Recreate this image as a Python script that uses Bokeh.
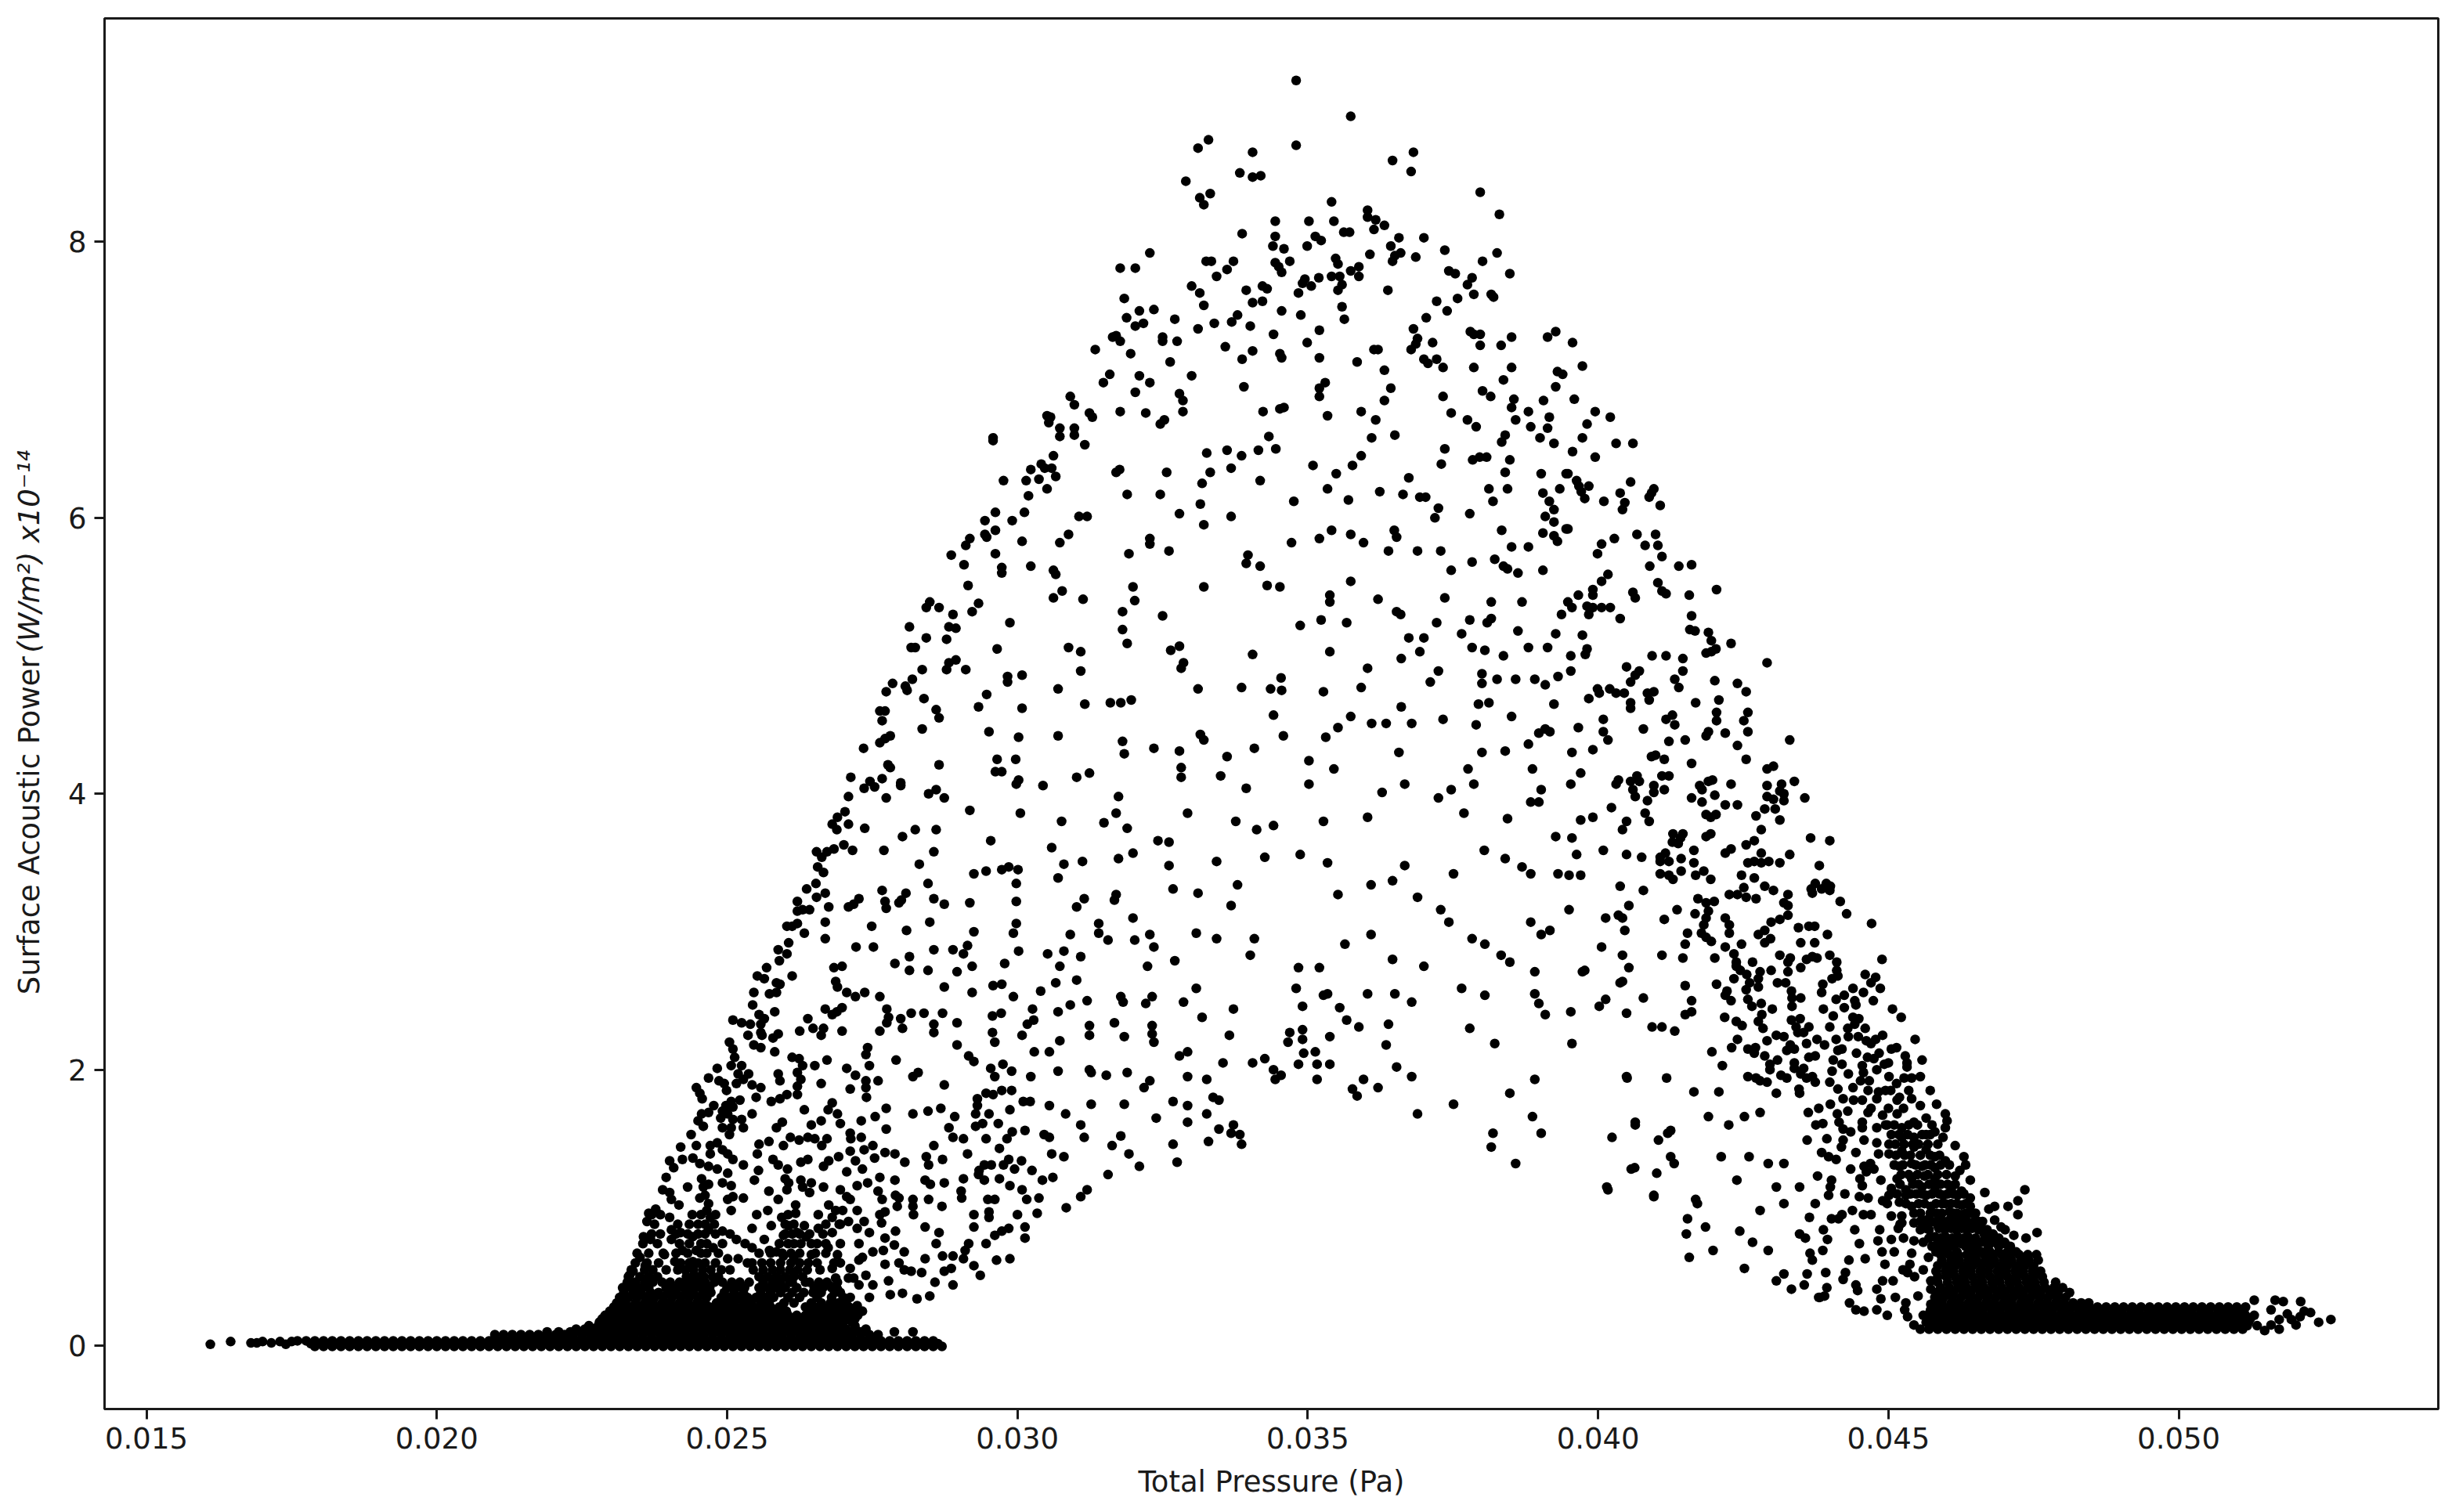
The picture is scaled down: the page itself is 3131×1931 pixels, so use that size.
import math
from bokeh.plotting import figure
from bokeh.layouts import row as bokeh_row
from bokeh.models import FixedTicker, Label, NumeralTickFormatter, ColumnDataSource
from bokeh.embed import file_html
from bokeh.resources import INLINE

# total pressure in mPa, surface acoustic power in units of 1e-14 W/m2
x_ticks = [0.015, 0.020, 0.025, 0.030, 0.035, 0.040, 0.045, 0.050]
y_ticks = [0, 2, 4, 6, 8]

apex = [(34.8,9.17),(35.74,8.91),(33.29,8.74),(33.11,8.68),(34.05,8.65),(34.8,8.7),(36.46,8.59),(36.82,8.65),(36.78,8.51),(33.83,8.5),(34.05,8.47),(34.19,8.48),(32.9,8.44),(33.32,8.35),(33.14,8.32),(33.21,8.27),(37.97,8.36),(38.3,8.2),(35.41,8.29),(36.03,8.23),(36.03,8.18),(36.17,8.16),(36.32,8.12),(36.14,8.09),(34.44,8.15),(35.02,8.15),(35.45,8.15),(35.62,8.07),(35.72,8.07),(33.87,8.06),(34.44,8.04),(35.13,8.04),(35.23,8.01),(36.57,8.03),(37.0,8.03),(34.99,7.97),(34.4,7.97),(34.59,7.95),(36.43,7.97),(36.6,7.92),(36.5,7.9),(36.46,7.86),(36.86,7.89),(36.07,7.91),(37.36,7.94),(38.26,7.92),(38.01,7.86),(38.48,7.77),(32.28,7.92),(31.77,7.81),(32.03,7.81),(33.25,7.86),(33.34,7.86),(33.72,7.86),(33.61,7.8),(33.43,7.75),(34.69,7.86),(34.44,7.85),(34.5,7.82),(34.55,7.78),(35.48,7.88),(35.52,7.84),(35.88,7.82),(35.74,7.79),(35.88,7.75),(35.41,7.75),(35.55,7.75),(35.19,7.74),(34.95,7.73),(34.91,7.7),(35.06,7.68),(34.84,7.63),(35.59,7.69),(35.52,7.65),(33.0,7.68),(33.14,7.63),(33.94,7.65),(34.22,7.68),(34.3,7.66),(36.38,7.65),(37.43,7.79),(37.54,7.77),(37.83,7.74),(37.75,7.69),(37.86,7.62),(38.16,7.62),(38.2,7.6),(37.58,7.59),(37.22,7.57),(37.4,7.5),(37.04,7.45),(31.84,7.59),(32.35,7.51),(32.1,7.5),(31.88,7.45),(32.17,7.41),(32.03,7.39),(32.71,7.44),(33.21,7.54),(34.05,7.56),(34.22,7.57),(34.55,7.5),(34.88,7.47),(35.59,7.53),(35.63,7.44),(33.79,7.47),(33.69,7.42),(34.01,7.39),(33.39,7.41),(33.11,7.37),(35.2,7.36),(36.82,7.37),(36.89,7.3),(36.86,7.26),(36.78,7.22),(37.15,7.27),(37.8,7.35),(37.86,7.33),(37.97,7.33),(37.97,7.25),(38.33,7.25),(38.51,7.31),(39.13,7.31),(39.27,7.35),(31.7,7.32),(31.64,7.31),(31.77,7.28),(32.5,7.31),(32.5,7.28),(32.75,7.28),(31.34,7.22),(31.95,7.19),(32.63,7.13),(34.41,7.33),(34.99,7.27),(33.58,7.24),(34.05,7.21),(34.52,7.19),(34.55,7.16),(33.87,7.15),(35.2,7.16),(35.85,7.13),(36.14,7.22),(36.21,7.22),(36.32,7.07),(37.0,7.15),(37.07,7.12),(37.22,7.15),(37.33,7.09),(37.86,7.09),(38.51,7.09),(38.37,7.0),(39.3,7.06),(39.39,7.04),(39.27,6.95),(31.59,7.04),(31.48,6.98),(32.1,7.03),(32.28,6.98),(33.0,7.03),(33.9,6.95),(35.3,6.98),(35.2,6.94),(35.2,6.88),(36.43,6.94),(36.32,6.85),(37.33,6.88),(38.01,6.92),(38.15,6.88),(38.55,6.86),(38.51,6.8),(39.06,6.85),(38.8,6.77),(39.16,6.73),(38.58,6.71),(38.84,6.66),(39.13,6.65),(30.91,6.88),(30.98,6.82),(32.03,6.91),(32.79,6.9),(32.85,6.85),(32.85,6.77),(31.77,6.77),(32.21,6.76),(32.53,6.71),(32.46,6.68),(31.24,6.76),(31.29,6.73),(30.51,6.74),(30.57,6.73),(30.54,6.69),(30.73,6.65),(30.98,6.65),(30.98,6.6),(30.73,6.59),(29.58,6.58),(34.23,6.77),(34.52,6.79),(34.59,6.8),(35.34,6.74),(35.92,6.77),(36.17,6.71),(37.47,6.76),(37.75,6.71),(37.9,6.66),(34.33,6.59),(36.1,6.58),(36.5,6.6),(38.4,6.6),(39.0,6.58)]

upper_right = [(39.56,7.27),(39.73,7.1),(39.59,6.86),(39.95,6.77),(40.21,6.73),(39.81,6.68),(39.73,6.58),(40.31,6.54),(40.6,6.54),(39.56,6.48),(39.95,6.44),(39.48,6.32),(39.63,6.27),(39.67,6.23),(39.71,6.19),(39.77,6.14),(39.84,6.23),(40.56,6.26),(40.38,6.18),(40.1,6.12),(40.46,6.11),(40.42,6.06),(40.96,6.21),(40.92,6.18),(40.88,6.15),(41.07,6.09),(39.48,5.92),(40.06,5.81),(40.28,5.85),(39.99,5.74),(40.67,5.88),(40.99,5.88),(40.81,5.8),(41.03,5.8),(41.1,5.72),(40.89,5.65),(41.39,5.65),(41.61,5.66),(40.17,5.59),(40.06,5.54),(39.91,5.48),(39.91,5.44),(39.66,5.44),(41.03,5.53),(41.1,5.47),(41.17,5.45),(40.6,5.46),(40.64,5.42),(41.57,5.44),(42.04,5.48),(39.48,5.39),(39.55,5.35),(39.81,5.36),(39.91,5.35),(40.06,5.35),(40.21,5.35),(39.84,5.3),(40.38,5.27),(41.61,5.29)]

right_flank = [(39.73,5.15),(39.81,5.05),(39.78,5.01),(39.53,5.0),(39.53,4.89),(40.93,5.0),(41.17,5.0),(41.46,4.98),(41.46,4.89),(41.58,5.19),(41.67,5.18),(41.9,5.17),(41.95,5.11),(41.86,5.02),(41.95,5.03),(42.03,5.05),(42.29,5.09),(42.91,4.95),(40.49,4.92),(40.71,4.89),(40.64,4.86),(40.56,4.81),(41.32,4.83),(41.39,4.77),(42.01,4.82),(42.4,4.8),(42.55,4.74),(39.99,4.76),(40.02,4.73),(39.84,4.69),(40.2,4.76),(40.31,4.73),(40.45,4.73),(40.56,4.66),(40.56,4.62),(40.96,4.74),(40.85,4.73),(40.88,4.68),(41.68,4.66),(42.08,4.68),(42.04,4.59),(42.04,4.53),(42.58,4.59),(42.51,4.53),(42.58,4.45),(40.09,4.54),(39.66,4.48),(40.09,4.45),(40.17,4.39),(40.78,4.47),(41.28,4.57),(41.17,4.54),(41.32,4.5),(41.9,4.45),(41.86,4.42),(42.19,4.44),(41.22,4.38),(41.5,4.39),(43.3,4.39),(42.4,4.35),(39.91,4.32),(39.55,4.3),(40.99,4.28),(40.92,4.27),(41.14,4.25),(41.61,4.22),(42.55,4.25),(43.02,4.2),(42.91,4.18),(39.7,4.15),(39.53,4.07),(40.35,4.1),(40.31,4.07),(40.67,4.13),(40.71,4.09),(40.56,4.09),(40.6,4.03),(40.64,3.98),(41.1,4.13),(41.22,4.13),(40.96,4.06),(40.96,4.01),(41.14,4.03),(40.85,3.95),(41.97,4.1),(41.9,4.09),(41.75,4.06),(41.79,4.03),(42.29,4.07),(42.01,3.99),(41.61,3.97),(41.79,3.94),(42.19,3.92),(42.4,3.92),(42.91,4.06),(43.16,4.07),(43.13,4.02),(43.2,4.0),(43.2,3.95),(43.38,4.09),(43.56,3.97),(42.91,3.98),(43.02,3.96),(43.05,3.89),(42.87,3.89),(42.72,3.84),(43.13,3.81),(40.23,3.9),(39.7,3.81),(39.91,3.83),(40.81,3.86),(40.88,3.8),(40.49,3.8),(40.42,3.74),(41.86,3.85),(41.94,3.83),(42.03,3.85),(42.81,3.74),(39.55,3.68),(41.29,3.71),(41.46,3.71),(41.42,3.68),(41.28,3.65),(41.38,3.64),(41.94,3.71),(41.86,3.69),(42.69,3.66),(42.55,3.63),(43.66,3.68),(43.99,3.66),(39.63,3.56),(40.09,3.59),(40.49,3.56),(40.75,3.54),(41.65,3.59),(42.29,3.6),(42.19,3.57),(42.81,3.57),(43.3,3.56),(41.16,3.57),(41.07,3.54),(41.22,3.51),(41.07,3.51),(41.43,3.53),(41.65,3.5),(42.58,3.5),(42.69,3.51),(42.81,3.5),(42.94,3.51),(43.13,3.5),(43.81,3.48),(39.5,3.41),(39.7,3.41),(41.07,3.42),(41.22,3.41),(41.29,3.38),(41.43,3.44),(41.68,3.41),(41.82,3.44),(41.94,3.38),(42.47,3.41),(42.69,3.39),(40.38,3.33),(40.78,3.3),(42.87,3.33),(43.02,3.3),(42.51,3.32),(42.4,3.27),(42.55,3.25),(42.26,3.27),(42.72,3.24),(43.27,3.27),(43.74,3.35),(43.93,3.35),(43.69,3.28),(43.85,3.31),(43.99,3.3),(43.67,3.31),(44.0,3.33),(44.17,3.22),(44.28,3.13),(41.72,3.24),(41.86,3.21),(42.0,3.22),(41.9,3.15),(40.53,3.19),(39.5,3.16),(41.36,3.16),(41.67,3.13),(43.2,3.21),(43.27,3.19),(40.13,3.1),(40.35,3.12),(40.42,3.1),(41.14,3.09),(41.86,3.1),(41.82,3.05),(41.78,2.99),(41.86,2.96),(41.95,2.93),(42.19,3.1),(42.26,3.05),(42.26,2.99),(43.27,3.12),(43.13,3.09),(42.98,3.07),(43.45,3.03),(43.63,3.04),(43.73,3.04),(44.71,3.06),(40.46,3.01),(41.54,2.99),(41.5,2.91),(42.87,3.01),(42.76,2.98),(43.95,2.98),(42.97,2.95),(42.87,2.92),(43.49,2.92),(43.73,2.92),(40.06,2.89),(42.19,2.89),(42.47,2.91),(40.42,2.83),(41.1,2.83),(41.46,2.81),(42.01,2.81),(42.34,2.84),(42.38,2.78),(43.13,2.83),(43.31,2.81),(43.27,2.78),(43.59,2.8),(43.69,2.82),(43.77,2.81),(43.99,2.83),(44.11,2.78),(44.89,2.8),(42.66,2.78),(40.53,2.74),(39.77,2.72),(39.73,2.71),(42.38,2.75),(42.45,2.72),(42.56,2.69),(42.61,2.63),(42.79,2.71),(42.76,2.66),(42.98,2.72),(43.49,2.74),(43.27,2.71),(44.11,2.72),(44.13,2.68),(44.03,2.66),(44.6,2.69),(44.78,2.67),(44.7,2.63),(42.34,2.66),(42.04,2.62),(40.42,2.64),(40.38,2.63),(41.5,2.61),(43.09,2.63),(43.23,2.63),(43.87,2.62),(43.85,2.56),(44.39,2.59),(44.57,2.56),(44.86,2.59),(42.55,2.58),(42.76,2.6),(42.22,2.57),(42.19,2.54),(42.29,2.5),(43.33,2.57),(43.34,2.52),(43.49,2.52),(43.34,2.46),(40.78,2.52),(40.13,2.51),(40.02,2.46),(41.61,2.5),(44.24,2.54),(44.1,2.51),(44.42,2.5),(44.24,2.45),(44.44,2.47),(44.74,2.5),(42.58,2.51),(42.65,2.46),(42.81,2.48),(43.0,2.44),(45.07,2.44),(45.22,2.38),(39.53,2.42),(40.49,2.41),(41.61,2.42),(41.5,2.4),(42.18,2.38),(42.82,2.4),(42.76,2.35),(42.84,2.3),(43.88,2.44),(44.05,2.39),(44.39,2.38),(44.49,2.37),(44.42,2.33),(43.33,2.36),(43.48,2.37),(43.41,2.31),(43.44,2.27),(43.54,2.27),(43.63,2.31),(43.99,2.31),(40.93,2.31),(41.1,2.31),(41.32,2.28),(42.38,2.35),(42.48,2.32),(43.07,2.25),(43.2,2.24),(42.91,2.21),(43.59,2.19),(43.77,2.22),(43.9,2.18),(44.1,2.22),(44.31,2.24),(44.48,2.24),(44.62,2.21),(44.78,2.22),(44.7,2.19),(45.46,2.22),(39.55,2.19),(42.4,2.22),(42.3,2.16),(43.31,2.18),(43.25,2.14),(43.38,2.15),(45.14,2.16),(45.29,2.1),(45.32,2.05),(45.32,2.02),(41.96,2.13),(42.58,2.15),(42.71,2.16),(42.69,2.12),(44.13,2.14),(42.87,2.1),(43.09,2.07),(43.63,2.09),(43.74,2.1),(44.05,2.07),(44.64,2.09),(44.84,2.12),(45.58,2.07),(42.96,2.04),(42.96,2.0),(43.38,2.05),(43.38,2.01),(43.54,2.01),(44.2,2.04),(44.55,2.03),(44.93,2.04),(44.8,2.0),(42.14,2.03),(44.03,1.99),(44.57,1.98),(40.49,1.95),(41.18,1.94),(42.58,1.95),(43.15,1.96),(43.25,1.94),(43.49,1.97),(43.59,1.94),(43.69,1.95),(43.74,1.91),(44.31,1.97),(42.79,1.92),(42.91,1.91),(45.01,1.95),(45.14,1.9),(45.27,1.94),(45.55,1.95),(45.4,1.94),(43.99,1.91),(44.13,1.86),(44.39,1.87),(44.52,1.92),(44.67,1.92),(41.65,1.84),(42.08,1.84),(43.46,1.86),(45.72,1.85),(44.83,1.84),(45.04,1.85)]

left_flank = [(29.58,6.56),(31.16,6.53),(30.62,6.45),(30.41,6.39),(30.47,6.36),(30.59,6.36),(30.23,6.35),(30.66,6.3),(30.37,6.28),(30.15,6.27),(29.76,6.27),(30.51,6.21),(30.19,6.16),(29.62,6.04),(30.12,6.04),(29.44,5.98),(29.91,5.98),(31.06,6.01),(31.2,6.01),(29.62,5.91),(29.44,5.88),(29.47,5.86),(30.88,5.88),(29.18,5.85),(29.11,5.8),(30.08,5.83),(30.73,5.82),(28.86,5.73),(29.62,5.74),(29.08,5.66),(29.73,5.64),(29.73,5.6),(30.23,5.65),(30.62,5.62),(30.66,5.59),(29.15,5.51),(30.77,5.47),(30.62,5.42),(31.13,5.41),(28.49,5.39),(28.43,5.35),(28.65,5.35),(29.33,5.38),(29.22,5.32),(28.89,5.3),(29.87,5.24),(28.14,5.21),(28.82,5.21),(28.94,5.2),(28.43,5.13),(28.78,5.12),(28.17,5.06),(28.24,5.06),(29.65,5.05),(30.88,5.06),(31.09,5.03),(28.94,4.97),(28.82,4.95),(28.78,4.9),(29.11,4.9),(28.36,4.9),(31.09,4.89),(30.08,4.86),(29.83,4.85),(29.83,4.81),(28.19,4.83),(27.85,4.8),(28.07,4.78),(28.1,4.75),(27.74,4.74),(30.7,4.76),(29.47,4.72),(28.39,4.69),(31.16,4.65),(29.33,4.63),(30.08,4.62),(27.63,4.6),(27.72,4.6),(28.6,4.61),(28.65,4.55),(27.67,4.53),(28.36,4.47),(29.51,4.45),(30.7,4.42),(30.02,4.41),(27.81,4.42),(27.72,4.4),(27.63,4.37),(27.35,4.33),(29.65,4.25),(29.97,4.25),(27.77,4.21),(27.81,4.19),(28.65,4.21),(29.62,4.16),(29.73,4.16),(31.24,4.15),(31.02,4.12),(27.13,4.12),(27.46,4.09),(27.67,4.11),(27.99,4.08),(30.02,4.1)]

centre_high = [(33.26,6.47),(33.61,6.49),(33.86,6.45),(34.15,6.49),(34.45,6.5),(31.76,6.35),(31.7,6.33),(32.57,6.33),(33.32,6.33),(33.68,6.36),(33.18,6.25),(34.18,6.27),(35.09,6.38),(35.92,6.45),(35.77,6.38),(35.49,6.32),(37.36,6.5),(37.3,6.39),(37.84,6.42),(37.96,6.44),(38.08,6.44),(38.48,6.42),(38.34,6.55),(39.24,6.54),(38.4,6.33),(39.02,6.32),(39.45,6.32),(36.74,6.29),(31.89,6.17),(32.46,6.17),(35.34,6.21),(36.24,6.19),(36.64,6.17),(36.93,6.15),(37.03,6.15),(38.12,6.21),(38.44,6.21),(39.05,6.18),(39.34,6.21),(34.76,6.12),(35.7,6.13),(38.19,6.12),(39.16,6.12),(39.24,6.06),(33.15,6.1),(37.25,6.07),(32.79,6.03),(33.68,6.01),(37.79,6.03),(39.09,6.01),(37.19,6.0),(33.21,5.95),(39.24,5.97),(39.45,5.92),(38.34,5.91),(39.05,5.89),(39.24,5.87),(39.3,5.83),(35.41,5.91),(35.2,5.85),(35.74,5.88),(35.96,5.82),(36.49,5.91),(36.53,5.86),(34.72,5.82),(32.28,5.85),(32.28,5.81),(31.92,5.74),(32.61,5.76),(36.39,5.76),(36.89,5.76),(37.29,5.76),(38.51,5.79),(38.8,5.79),(33.97,5.73),(33.94,5.67),(34.18,5.65),(37.83,5.68),(38.22,5.7),(38.37,5.65),(38.44,5.63),(38.62,5.6),(37.47,5.62),(39.05,5.62),(35.74,5.54),(31.99,5.5),(33.21,5.5),(34.3,5.51),(34.52,5.5),(32.02,5.4),(35.38,5.44),(35.38,5.39),(36.21,5.41),(37.36,5.42),(38.16,5.39),(38.69,5.39),(31.81,5.32),(32.5,5.29),(36.53,5.32),(36.6,5.3),(39.37,5.3),(37.79,5.26),(38.16,5.27),(38.09,5.24),(35.23,5.26),(35.67,5.24),(34.87,5.22),(37.22,5.24),(31.81,5.19),(37.65,5.16),(38.62,5.18),(39.27,5.16),(36.74,5.13),(37.0,5.13),(31.89,5.09),(32.79,5.07),(32.64,5.04),(37.83,5.06),(38.05,5.04),(38.8,5.06),(39.13,5.06),(34.05,5.01),(35.38,5.03),(36.93,5.03),(36.61,4.98),(38.37,5.0),(32.86,4.95),(32.82,4.91),(36.03,4.91),(37.25,4.89),(39.31,4.85),(34.54,4.84),(38.0,4.87),(38.26,4.83),(38.58,4.83),(38.91,4.83),(37.11,4.81),(38.0,4.8),(39.09,4.79),(33.11,4.76),(33.86,4.77),(34.36,4.76),(34.55,4.75),(35.92,4.77),(35.27,4.74),(31.6,4.66),(31.78,4.66),(31.96,4.68),(37.94,4.65),(38.12,4.66),(39.24,4.65),(36.61,4.63),(34.41,4.57),(35.74,4.56),(38.51,4.56),(37.33,4.54),(36.1,4.51),(36.35,4.51),(36.79,4.51),(37.9,4.5),(35.52,4.48),(39.09,4.47),(38.98,4.44),(39.17,4.45),(33.15,4.43),(33.21,4.39),(34.58,4.42),(35.31,4.41),(31.81,4.38),(32.35,4.33),(32.79,4.31),(34.08,4.33),(38.8,4.36),(31.84,4.29),(33.61,4.27),(36.57,4.3),(38.0,4.3),(38.4,4.31),(35.02,4.24),(32.82,4.19),(35.45,4.18),(37.76,4.18),(38.87,4.18),(33.5,4.13),(32.82,4.12),(35.02,4.07),(36.67,4.07),(37.86,4.07),(33.94,4.04),(37.47,4.03),(39.02,4.03),(36.28,4.01),(31.74,3.98),(37.25,3.97),(38.84,3.94),(38.98,3.94),(31.7,3.86),(32.93,3.86),(37.69,3.86),(36.03,3.83),(38.44,3.82),(31.49,3.79),(33.76,3.8),(35.27,3.8),(34.41,3.77),(31.89,3.75),(34.12,3.74)]

centre_low = [(32.42,3.66),(32.61,3.65),(31.99,3.57),(31.74,3.53),(32.61,3.48),(33.43,3.51),(34.26,3.54),(34.87,3.56),(35.34,3.5),(36.67,3.48),(38.04,3.59),(38.4,3.53),(38.69,3.47),(38.84,3.42),(39.27,3.69),(39.31,3.42),(36.46,3.37),(37.51,3.42),(36.09,3.34),(33.79,3.34),(32.68,3.31),(33.11,3.28),(31.7,3.27),(31.67,3.23),(35.52,3.27),(36.89,3.25),(33.68,3.19),(37.29,3.16),(37.43,3.07),(31.99,3.1),(38.84,3.07),(31.4,3.06),(31.4,2.99),(33.08,2.99),(32.28,2.98),(36.09,2.98),(39.17,3.01),(39.02,2.98),(31.56,2.94),(32.02,2.94),(32.35,2.89),(33.43,2.95),(34.08,2.95),(37.83,2.95),(38.05,2.91),(35.64,2.91),(34.01,2.83),(38.33,2.83),(38.48,2.78),(32.71,2.79),(32.24,2.75),(36.46,2.8),(37.0,2.75),(34.84,2.74),(35.2,2.74),(38.91,2.71),(33.08,2.59),(34.8,2.59),(37.65,2.59),(31.78,2.53),(31.82,2.49),(32.32,2.53),(32.21,2.48),(32.86,2.49),(35.34,2.55),(35.27,2.54),(36.03,2.55),(36.5,2.55),(36.79,2.49),(38.05,2.54),(38.91,2.55),(38.98,2.48),(34.91,2.46),(35.55,2.45),(33.72,2.44),(39.09,2.4),(33.18,2.38),(31.67,2.34),(35.67,2.36),(35.88,2.31),(36.39,2.33),(32.32,2.32),(32.32,2.26),(32.35,2.2),(34.69,2.27),(34.91,2.29),(34.91,2.22),(34.66,2.2),(31.84,2.24),(33.65,2.25),(35.38,2.24),(37.79,2.3),(38.22,2.19),(36.35,2.18),(32.93,2.13),(32.79,2.1),(34.93,2.12),(35.13,2.13),(34.26,2.08),(33.54,2.05),(34.05,2.05),(34.84,2.04),(35.16,2.04),(35.38,2.04),(36.53,2.02),(31.53,1.96),(31.89,1.98),(34.41,2.0),(34.54,1.96),(34.44,1.93),(32.93,1.95),(33.26,1.93),(32.28,1.92),(32.18,1.87),(35.16,1.93),(35.96,1.93),(36.79,1.95),(38.91,1.93),(36.21,1.87),(35.77,1.86),(35.85,1.81),(38.48,1.83),(33.37,1.8),(33.47,1.78),(32.68,1.77),(31.84,1.75),(32.93,1.74),(37.51,1.75),(33.26,1.68),(32.39,1.65),(36.89,1.68),(38.87,1.66),(32.93,1.62),(33.72,1.6),(33.47,1.57),(33.68,1.54),(33.83,1.53),(38.19,1.54),(39.02,1.54),(31.78,1.52),(40.64,1.6),(41.25,1.56),(40.24,1.51),(32.68,1.46),(33.29,1.48),(33.86,1.46),(31.63,1.45),(38.16,1.44),(31.92,1.39),(41.25,1.37),(32.75,1.33),(32.1,1.3),(38.58,1.32),(40.57,1.28),(41.01,1.25),(31.56,1.24),(40.17,1.13),(40.96,1.08),(41.68,1.06),(41.54,0.92)]

lower_left_a = [(27.09,3.98),(27.36,4.04),(27.54,4.05),(27.74,3.97),(27.99,4.06),(28.47,4.0),(28.6,4.03),(28.74,3.97),(29.18,3.88),(30.05,3.86),(29.98,4.07),(30.44,4.06),(30.76,3.8),(27.03,3.87),(26.9,3.83),(26.81,3.78),(26.89,3.74),(27.09,3.78),(27.37,3.75),(28.02,3.69),(28.24,3.74),(28.6,3.74),(29.54,3.66),(30.59,3.61),(27.01,3.63),(27.16,3.59),(26.84,3.6),(26.72,3.58),(26.54,3.58),(26.63,3.54),(26.56,3.47),(26.66,3.43),(27.7,3.59),(28.56,3.58),(28.31,3.49),(29.25,3.42),(29.46,3.44),(29.73,3.45),(29.85,3.47),(30.01,3.45),(30.8,3.49),(31.12,3.51),(30.7,3.39),(26.53,3.35),(26.37,3.31),(26.69,3.28),(26.54,3.25),(27.67,3.3),(28.46,3.35),(29.98,3.35),(28.08,3.28),(28.0,3.23),(27.96,3.21),(27.27,3.24),(27.18,3.2),(27.09,3.18),(27.72,3.22),(27.74,3.17),(28.56,3.24),(28.74,3.2),(29.18,3.21),(29.98,3.22),(31.15,3.24),(31.02,3.18),(26.21,3.22),(26.3,3.16),(26.42,3.16),(26.21,3.15),(26.75,3.18),(26.69,3.07),(26.33,2.99),(26.69,2.95),(26.21,3.06),(26.12,3.04),(26.03,3.04),(27.49,3.04),(28.09,3.01),(28.49,3.07),(29.25,3.0),(29.98,3.06),(29.93,2.99),(30.91,2.98),(26.06,2.92),(25.88,2.87),(26.03,2.84),(25.9,2.79),(27.22,2.89),(27.52,2.89),(28.56,2.87),(28.89,2.87),(29.14,2.9),(29.07,2.84),(30.02,2.86),(30.52,2.84),(30.8,2.86),(31.09,2.82),(28.14,2.82),(25.68,2.74),(25.52,2.68),(25.64,2.66),(26.84,2.74),(26.98,2.75),(27.89,2.77),(28.14,2.72),(28.46,2.72),(29.22,2.75),(28.96,2.71),(29.78,2.77),(30.73,2.75),(26.12,2.68),(25.85,2.63),(25.91,2.62),(30.66,2.63),(31.02,2.65),(30.4,2.57),(26.87,2.64),(26.9,2.6),(27.06,2.56),(27.21,2.53),(27.37,2.56),(27.63,2.53),(28.74,2.6),(29.22,2.56),(29.58,2.61),(29.73,2.62),(25.46,2.56),(25.73,2.55),(25.85,2.56),(29.93,2.53),(25.44,2.47),(25.82,2.42),(30.91,2.47),(31.2,2.5),(25.55,2.4),(25.64,2.37),(25.58,2.33),(25.58,2.27),(25.6,2.25),(27.75,2.44),(27.78,2.38),(27.75,2.34),(27.63,2.28),(26.98,2.45),(26.89,2.42),(26.81,2.4),(26.69,2.44),(26.39,2.37),(26.25,2.28),(26.48,2.3),(26.66,2.3),(26.62,2.25),(26.98,2.28),(27.99,2.37),(28.17,2.41),(28.39,2.41),(28.71,2.41),(28.56,2.33),(28.56,2.27),(28.02,2.3),(28.96,2.34),(29.57,2.39),(29.72,2.41),(29.57,2.27),(30.26,2.44),(30.28,2.36),(30.17,2.33),(30.08,2.25),(30.7,2.42),(31.24,2.32),(31.24,2.25),(25.1,2.36),(25.25,2.34),(25.4,2.33),(25.88,2.26),(25.79,2.23),(25.36,2.25),(25.46,2.18),(25.58,2.16),(25.82,2.13),(25.04,2.2),(25.1,2.15),(25.13,2.09),(27.42,2.16),(27.39,2.11),(27.45,2.03),(27.91,2.07),(28.96,2.18),(29.16,2.1),(29.25,2.06),(29.61,2.2),(30.29,2.13),(30.55,2.13),(30.73,2.21)]

lower_left_b = [(26.12,2.09),(26.24,2.08),(26.3,2.03),(26.21,1.98),(26.27,1.93),(26.21,1.88),(26.21,1.82),(26.72,2.07),(26.51,2.03),(27.06,2.01),(27.21,1.96),(27.39,1.92),(27.39,1.87),(27.6,1.92),(27.12,1.86),(27.4,1.8),(25.88,1.97),(25.91,1.92),(26.62,1.9),(28.29,1.98),(28.2,1.95),(28.74,1.89),(29.54,2.01),(29.75,2.04),(29.9,1.99),(29.61,1.95),(30.23,1.95),(30.7,1.99),(31.24,2.0),(31.27,1.98),(25.25,2.03),(25.07,2.03),(24.83,2.01),(24.68,1.94),(25.19,1.97),(25.37,1.97),(25.16,1.9),(25.28,1.93),(24.86,1.92),(24.95,1.9),(24.99,1.85),(25.43,1.89),(25.58,1.87),(25.5,1.8),(24.47,1.87),(24.53,1.83),(24.57,1.79),(25.76,1.77),(25.91,1.79),(26.03,1.82),(25.22,1.78),(25.07,1.77),(24.98,1.74),(24.77,1.74),(24.92,1.7),(25.1,1.73),(26.81,1.76),(26.74,1.71),(26.9,1.68),(26.95,1.61),(26.33,1.71),(27.74,1.72),(25.43,1.68),(28.2,1.68),(28.46,1.7),(28.68,1.72),(29.31,1.79),(29.31,1.74),(29.46,1.83),(29.58,1.82),(29.73,1.85),(29.9,1.85),(30.1,1.77),(30.22,1.77),(30.55,1.74),(31.27,1.75),(29.87,1.71),(29.28,1.68),(29.51,1.68),(28.92,1.66),(30.83,1.68),(24.56,1.68),(24.5,1.63),(24.59,1.59),(24.68,1.69),(24.89,1.65),(25.01,1.68),(25.1,1.64),(25.25,1.64),(24.92,1.58),(25.07,1.58),(25.28,1.58),(25.04,1.53),(25.95,1.62),(25.85,1.58),(26.45,1.6),(26.62,1.63),(27.31,1.63),(27.55,1.66),(27.74,1.57),(29.28,1.59),(29.4,1.61),(29.67,1.61),(28.82,1.58),(31.09,1.6),(24.38,1.53),(24.2,1.44),(24.47,1.45),(26.09,1.51),(26.24,1.49),(26.39,1.51),(26.51,1.5),(26.72,1.5),(26.63,1.45),(27.12,1.54),(27.13,1.5),(27.31,1.51),(25.72,1.48),(25.55,1.46),(28.89,1.51),(29.07,1.5),(29.46,1.5),(29.91,1.55),(30.13,1.56),(29.82,1.5),(30.46,1.53),(30.55,1.51),(31.15,1.51),(24.71,1.45),(24.83,1.47),(24.92,1.42),(24.71,1.39),(25.01,1.39),(25.97,1.45),(28.56,1.45),(29.69,1.43),(25.52,1.39),(25.1,1.35),(25.28,1.31),(25.79,1.35),(25.88,1.31),(26.27,1.33),(26.39,1.35),(26.75,1.34),(26.66,1.3),(26.92,1.37),(27.12,1.41),(27.21,1.34),(27.36,1.42),(27.51,1.45),(27.54,1.36),(27.72,1.4),(27.89,1.39),(28.06,1.33),(28.43,1.37),(28.47,1.31),(28.71,1.35),(29.14,1.39),(30.59,1.39),(30.8,1.37),(29.43,1.31),(29.55,1.31),(29.85,1.35),(30.07,1.34),(29.34,1.27),(29.33,1.24),(29.43,1.2),(24.01,1.34),(24.23,1.35),(24.41,1.36),(24.53,1.32),(24.08,1.29),(24.68,1.3),(24.83,1.28),(25.01,1.25),(25.54,1.27),(26.04,1.28),(27.06,1.26),(27.33,1.28),(29.76,1.31),(29.95,1.28),(30.25,1.27),(30.43,1.2),(30.61,1.22),(23.95,1.22),(24.56,1.21),(24.68,1.17),(24.92,1.18),(25.07,1.16),(25.47,1.2),(26.0,1.21),(26.06,1.18),(26.03,1.13),(26.27,1.2),(26.45,1.18),(27.63,1.22),(27.89,1.2),(28.74,1.18),(29.07,1.21),(28.41,1.2),(28.5,1.17),(29.69,1.21),(29.87,1.16),(30.08,1.13),(30.37,1.07),(30.16,1.06),(31.2,1.13),(31.09,1.08),(30.84,1.0),(23.89,1.13),(24.01,1.11),(24.04,1.06),(24.32,1.15),(24.59,1.15),(25.1,1.08),(25.28,1.07),(25.01,1.06),(25.72,1.12),(25.88,1.06),(26.3,1.15),(26.42,1.11),(26.66,1.15),(26.95,1.13),(27.24,1.16),(27.42,1.18),(27.06,1.08),(27.12,1.06),(27.6,1.12)]

lower_left_c = [(27.9,1.09),(27.96,1.07),(28.2,1.06),(27.93,1.01),(28.2,1.01),(28.21,0.95),(27.67,1.06),(27.72,0.97),(28.47,1.06),(28.7,1.01),(29.03,1.12),(29.04,1.07),(29.49,1.06),(29.61,1.06),(29.51,0.97),(29.51,0.93),(29.25,0.95),(30.0,0.95),(30.34,0.96),(24.62,1.09),(24.68,1.03),(24.65,0.98),(24.71,0.93),(24.53,1.07),(23.77,0.99),(23.65,0.96),(23.62,0.9),(24.01,0.93),(24.17,1.02),(25.07,0.98),(25.51,0.95),(25.7,0.98),(25.94,0.93),(26.18,1.02),(26.18,0.96),(26.57,0.95),(26.75,1.02),(26.87,0.98),(26.99,0.98),(26.81,0.93),(27.24,0.98),(27.63,0.95),(27.66,0.89),(29.25,0.86),(30.13,0.86),(30.13,0.78),(29.85,0.85),(29.73,0.83),(29.61,0.8),(29.46,0.74),(28.41,0.86),(28.65,0.82),(28.6,0.74),(27.9,0.83),(27.72,0.78),(27.88,0.73),(27.45,0.82),(27.09,0.9),(27.24,0.85),(27.36,0.9),(26.93,0.88),(26.81,0.82),(27.27,0.74),(24.92,0.83),(25.43,0.85),(25.76,0.87),(26.06,0.87),(25.97,0.8),(26.57,0.85),(23.56,0.79),(23.68,0.77),(24.04,0.84),(24.2,0.82),(24.41,0.79),(24.68,0.84),(26.33,0.87),(26.21,0.82),(26.36,0.79),(26.27,0.74),(26.45,0.74),(25.16,0.77),(25.43,0.71),(25.31,0.74),(25.64,0.77),(24.76,0.71),(29.16,0.74),(29.1,0.69),(28.05,0.68),(28.71,0.65),(28.89,0.65),(29.07,0.63),(28.41,0.63),(29.64,0.62),(29.87,0.63),(27.69,0.69),(27.51,0.68),(27.33,0.64),(27.27,0.62),(26.9,0.66),(26.84,0.6),(26.81,0.56),(26.74,0.71),(23.5,0.64),(23.59,0.58),(23.38,0.54),(23.32,0.51),(24.04,0.77),(24.23,0.69),(24.47,0.69),(23.92,0.66),(24.1,0.61),(24.41,0.61),(25.01,0.63),(25.19,0.63),(25.43,0.6),(25.73,0.69),(25.85,0.68),(25.97,0.65),(26.15,0.64),(26.45,0.66),(27.72,0.59),(27.96,0.6),(28.05,0.55),(28.17,0.54),(28.35,0.53),(28.86,0.56),(28.74,0.54),(29.25,0.58),(29.36,0.51),(27.12,0.56),(27.09,0.49),(27.18,0.49),(27.39,0.51),(27.27,0.44),(27.51,0.44),(27.45,0.35),(26.87,0.49),(26.75,0.44),(26.9,0.41),(27.12,0.35),(27.24,0.29),(27.0,0.31),(27.33,0.25),(27.78,0.47),(27.81,0.37),(28.02,0.38),(28.27,0.34),(28.49,0.36),(28.58,0.46),(28.89,0.44),(27.21,0.12),(27.39,0.12),(27.88,0.1),(28.2,0.1)]

gap_points = [(40.15,1.15),(40.63,1.29),(40.96,1.09),(40.64,1.62),(41.2,1.54),(40.5,1.94),(41.52,0.81),(41.57,0.64),(41.71,1.03),(41.85,0.86),(41.98,0.69),(42.44,0.83),(42.52,0.56),(42.66,0.75),(42.93,0.69),(42.79,0.98),(43.2,1.03),(43.47,0.81),(42.12,1.37),(42.39,1.2),(42.6,1.37),(42.93,1.32),(43.2,1.32),(43.47,1.15),(43.07,1.15),(42.52,1.66),(42.79,1.69),(43.07,1.83),(42.72,1.94),(43.47,1.83),(43.6,1.49),(43.33,0.41),(43.2,0.52),(43.6,0.52),(43.82,0.35),(43.07,0.47),(43.87,0.69),(44.14,0.92),(43.74,1.03),(44.0,1.15),(42.25,1.6),(41.9,1.66),(41.31,1.32),(41.04,1.49)]

right_scatter = [(45.83,1.75),(45.55,1.74),(45.4,1.79),(45.98,1.68),(46.01,1.63),(45.98,1.58),(44.22,1.79),(44.55,1.78),(44.8,1.79),(45.19,1.8),(43.62,1.69),(43.8,1.72),(44.12,1.68),(44.3,1.7),(44.65,1.69),(44.9,1.67),(45.15,1.68),(45.26,1.72),(43.87,1.61),(44.15,1.62),(44.22,1.57),(44.55,1.62),(44.55,1.58),(44.8,1.58),(44.98,1.6),(45.23,1.58),(45.44,1.62),(45.65,1.65),(43.94,1.5),(44.22,1.49),(44.19,1.44),(44.58,1.49),(44.8,1.47),(45.01,1.46),(45.23,1.51),(45.44,1.51),(45.65,1.53),(45.8,1.55),(45.94,1.51),(46.15,1.45),(44.44,1.4),(44.83,1.39),(45.01,1.39),(45.23,1.41),(45.44,1.44),(45.65,1.42),(43.97,1.37),(46.3,1.37),(45.8,1.37),(45.98,1.34),(46.33,1.31),(46.23,1.27),(46.15,1.23),(44.58,1.3),(44.69,1.32),(44.62,1.26),(45.19,1.3),(45.4,1.32),(45.58,1.3),(45.8,1.29),(46.41,1.2),(43.78,1.23),(44.02,1.2),(44.51,1.21),(44.55,1.16),(44.87,1.2),(45.15,1.21),(45.4,1.21),(45.62,1.23),(45.8,1.21),(45.05,1.14),(45.3,1.13),(45.58,1.15),(45.8,1.15),(46.08,1.14),(46.26,1.12),(46.66,1.11),(47.35,1.13),(43.97,1.09),(44.65,1.07),(45.01,1.09),(45.3,1.09),(45.65,1.09),(45.94,1.09),(46.19,1.09),(46.41,1.07),(47.23,1.05),(44.98,1.03),(45.19,1.04),(45.4,1.01),(45.73,1.01),(45.98,1.03),(46.26,1.02),(46.41,1.01),(46.73,0.99),(46.83,1.01),(47.06,1.01),(47.23,0.95),(44.38,0.98),(44.57,0.95),(43.64,0.93),(44.02,0.92),(45.05,0.94),(45.23,0.94),(45.44,0.96),(45.65,0.91),(45.83,0.96),(46.05,0.97),(46.26,0.95),(46.41,0.96),(46.55,0.9),(45.23,0.89),(45.44,0.89),(45.87,0.91),(46.05,0.91),(46.26,0.91),(46.44,0.85),(46.83,0.91),(46.94,0.86),(43.88,0.84),(44.42,0.84),(44.85,0.84),(45.17,0.85),(45.65,0.85),(45.87,0.85),(46.08,0.85),(46.26,0.85),(43.57,0.78),(43.95,0.77),(44.82,0.76),(45.05,0.77),(45.26,0.78),(45.44,0.76),(45.8,0.79),(45.98,0.79),(46.19,0.79),(46.37,0.79),(46.65,0.81),(46.8,0.81),(47.01,0.84),(47.16,0.8),(47.37,0.78),(47.56,0.82),(44.5,0.74),(45.87,0.74),(46.05,0.74),(46.26,0.74),(46.44,0.74),(46.65,0.76),(46.83,0.76),(47.01,0.74),(44.89,0.68),(45.4,0.67),(45.69,0.64),(43.65,0.67),(43.69,0.62),(44.32,0.62),(44.6,0.63),(44.94,0.59),(45.37,0.59),(45.33,0.53),(43.92,0.53),(44.26,0.53),(44.22,0.48),(44.9,0.47),(45.08,0.47),(45.73,0.47),(45.73,0.41),(43.55,0.44),(43.94,0.42),(43.9,0.36),(44.44,0.44),(44.47,0.4),(44.8,0.41),(45.12,0.35),(45.51,0.36),(43.8,0.35),(44.33,0.31),(44.44,0.26),(44.58,0.25),(44.8,0.26),(44.98,0.22),(44.87,0.34),(45.3,0.31),(45.28,0.26),(45.33,0.21),(45.73,0.3),(45.73,0.26),(45.44,0.15),(45.55,0.12)]

right_extra = [(44.3,2.3),(44.6,2.3),(44.9,2.25),(45.05,2.15),(44.2,2.15),(44.45,2.12),(44.75,2.08),(45.0,2.05),(44.95,1.85),(45.15,1.78),(45.35,1.85),(44.65,1.85),(44.4,1.78),(44.0,1.75),(43.75,1.6),(44.35,1.55),(44.7,1.72),(45.0,1.72),(43.85,1.4),(44.1,1.35),(44.35,1.28),(44.75,1.28),(44.9,1.05),(44.7,0.95),(44.2,0.95),(44.25,1.1),(44.5,1.08),(45.2,0.88),(45.1,0.68),(45.25,0.55),(45.45,0.5),(45.6,0.55),(45.6,0.75)]

right_tail = [(51.3,0.33),(51.66,0.33),(51.8,0.32),(52.1,0.32),(52.27,0.24),(52.02,0.15),(51.73,0.12),(51.48,0.11),(52.41,0.17),(52.62,0.19),(51.59,0.26),(51.87,0.23),(52.09,0.21),(52.16,0.25),(51.73,0.19),(51.94,0.19),(51.59,0.15)]

left_tail = [(16.1,0.01),(16.45,0.03),(16.8,0.02),(16.9,0.02),(17.0,0.03),(17.15,0.02),(17.3,0.03),(17.4,0.01),(17.5,0.03)]

# solid parts, listed as (power, [pressures])
solid_rows = [
 (0.50,[23.3,23.5,23.65,23.8,24.3,24.4,24.5,24.6,24.75,24.85,25.55,25.7,25.85,26.0,26.15,26.3]),
 (0.42,[23.2,23.35,23.5,23.65,23.95,24.1,24.25,24.4,24.55,24.7,25.0,25.15,25.3,25.55,25.7,25.85,26.0,26.2,26.5,26.65,26.8]),
 (0.35,[23.15,23.3,23.45,23.6,23.75,23.9,24.05,24.2,24.35,24.5,24.65,24.9,25.05,25.2,25.35,25.5,25.65,25.8,26.05,26.25,26.55,26.8,27.0]),
 (0.28,[23.05,23.2,23.35,23.5,23.65,23.8,23.95,24.1,24.25,24.4,24.55,24.7,24.85,25.0,25.15,25.3,25.45,25.6,25.75,25.9,26.35,26.5,26.65,26.8,26.95,27.1]),
 (0.22,[22.9,23.05,23.2,23.35,23.5,23.65,23.8,23.95,24.1,24.25,24.4,24.55,24.7,24.85,25.0,25.15,25.3,25.45,25.6,25.75,25.9,26.05,26.2,26.35,26.5,26.65,26.8,26.95,27.1,27.25]),
 (0.17,[22.8,22.95,23.1,23.25,23.4,23.55,23.7,23.85,24.0,24.15,24.3,24.45,24.6,24.75,24.9,25.05,25.2,25.35,25.5,25.65,25.8,25.95,26.1,26.25,26.4,26.55,26.7,26.85,27.0,27.15]),
 (0.12,[22.4,22.55,22.7,22.85,23.0,23.15,23.3,23.45,23.6,23.75,23.9,24.05,24.2,24.35,24.5,24.65,24.8,24.95,25.1,25.25,25.4,25.55,25.7,25.85,26.0,26.15,26.3,26.45,26.6,26.75,26.9,27.05]),
 (0.08,[21.0,21.15,21.3,21.45,21.6,21.75,21.9,22.05,22.2,22.35,22.5,22.65,22.8,22.95,23.1,23.25,23.4,23.55,23.7,23.85,24.0,24.15,24.3,24.45,24.6,24.75,24.9,25.05,25.2,25.35,25.5,25.65,25.8,25.95,26.1,26.25,26.4,26.55,26.7,26.85,27.0,27.15,27.3,27.45,27.6]),
 (0.035,[17.6,17.75,17.9,18.05,18.2,18.35,18.5,18.65,18.8,18.95,19.1,19.25,19.4,19.55,19.7,19.85,20.0,20.15,20.3,20.45,20.6,20.75,20.9,21.05,21.2,21.35,21.5,21.65,21.8,21.95,22.1,22.25,22.4,22.55,22.7,22.85,23.0,23.15,23.3,23.45,23.6,23.75,23.9,24.05,24.2,24.35,24.5,24.65,24.8,24.95,25.1,25.25,25.4,25.55,25.7,25.85,26.0,26.15,26.3,26.45,26.6,26.75,26.9,27.05,27.2,27.35,27.5,27.65,27.8,27.95,28.1,28.25,28.4,28.55]),
 (-0.005,[17.9,18.05,18.2,18.35,18.5,18.65,18.8,18.95,19.1,19.25,19.4,19.55,19.7,19.85,20.0,20.15,20.3,20.45,20.6,20.75,20.9,21.05,21.2,21.35,21.5,21.65,21.8,21.95,22.1,22.25,22.4,22.55,22.7,22.85,23.0,23.15,23.3,23.45,23.6,23.75,23.9,24.05,24.2,24.35,24.5,24.65,24.8,24.95,25.1,25.25,25.4,25.55,25.7,25.85,26.0,26.15,26.3,26.45,26.6,26.75,26.9,27.05,27.2,27.35,27.5,27.65,27.8,27.95,28.1,28.25,28.4,28.55,28.7]),
 (0.015,[17.83,17.98,18.13,18.28,18.43,18.58,18.73,18.88,19.03,19.18,19.33,19.48,19.63,19.78,19.93,20.08,20.23,20.38,20.53,20.68,20.83,20.98,21.13,21.28,21.43,21.58,21.73,21.88,22.03,22.18,22.33,22.48,22.63,22.78,22.93,23.08,23.23,23.38,23.53,23.68,23.83,23.98,24.13,24.28,24.43,24.58,24.73,24.88,25.03,25.18,25.33,25.48,25.63,25.78,25.93,26.08,26.23,26.38,26.53,26.68,26.83,26.98,27.13,27.28,27.43,27.58,27.73,27.88,28.03,28.18,28.33,28.48,28.63]),
 (0.10,[21.9,22.1,22.3,22.48,22.63,22.78,22.93,23.08,23.23,23.38,23.53,23.68,23.83,23.98,24.13,24.28,24.43,24.58,24.73,24.88,25.03,25.18,25.33,25.48,25.63,25.78,25.93,26.08,26.23,26.38,26.53,26.68,26.83,26.98,27.13,27.3]),
 (0.145,[22.62,22.78,22.93,23.08,23.23,23.38,23.53,23.68,23.83,23.98,24.13,24.28,24.43,24.58,24.73,24.88,25.03,25.18,25.33,25.48,25.63,25.78,25.93,26.08,26.23,26.38,26.53,26.68,26.83,26.98,27.2]),
 (0.195,[22.85,22.98,23.13,23.28,23.43,23.58,23.73,23.88,24.03,24.18,24.33,24.48,24.63,24.78,24.93,25.08,25.23,25.38,25.53,25.68,25.83,25.98,26.13,26.28,26.43,26.58,26.73,26.88,27.03,27.2]),
 (0.25,[22.98,23.12,23.28,23.42,23.58,23.72,23.88,24.02,24.18,24.32,24.48,24.62,24.78,24.92,25.08,25.22,25.38,25.52,25.68,25.82,26.02,26.42,26.58,26.72,26.88,27.02,27.18]),
 (0.31,[23.1,23.25,23.42,23.58,23.72,23.88,24.02,24.18,24.32,24.48,24.62,24.82,24.98,25.12,25.28,25.42,25.58,25.72,25.98,26.15,26.45,26.62,26.78,26.92,27.05]),
 (0.385,[23.22,23.38,23.52,23.68,23.82,23.98,24.12,24.28,24.42,24.58,24.72,24.95,25.12,25.28,25.58,25.75,25.92,26.12,26.32,26.48,26.62,26.85,26.95]),
 (0.46,[23.28,23.42,23.58,23.72,23.88,24.02,24.18,24.32,24.48,24.62,24.78,24.92,25.08,25.22,25.38,25.62,25.78,25.92,26.08,26.12,26.35,26.42,26.58,26.72,26.9]),
 (0.55,[23.35,23.58,23.72,23.95,24.15,24.28,24.42,24.58,24.72,24.9,25.05,25.45,25.62,25.78,25.92,26.08,26.22,26.38,26.6]),
 (0.60,[23.42,23.62,23.82,24.2,24.35,24.5,24.62,24.8,25.35,25.6,25.75,25.92,26.1,26.25,26.4,26.55,26.95]),
 (0.67,[23.45,23.65,23.9,24.12,24.32,24.55,24.65,24.85,25.55,25.75,25.95,26.1,26.25,26.52,26.7]),
 (0.74,[23.55,23.8,24.18,24.35,24.55,24.65,24.92,25.9,26.05,26.15,26.55,26.7,26.95]),
 (0.81,[23.7,23.85,24.12,24.32,24.5,24.62,24.8,25.05,26.0,26.12,26.25,26.42,26.65]),
 (0.88,[23.75,24.15,24.35,24.5,24.62,24.78,26.0,26.15,26.7,26.95]),
 (0.95,[23.7,23.85,24.4,24.55,24.8,26.05]),
 (0.66,[45.9,46.05,46.2,46.35,46.5,46.65,46.8,46.95,47.1,47.25,47.4,47.55]),
 (0.58,[45.85,46.0,46.15,46.3,46.45,46.6,46.75,46.9,47.05,47.2,47.35,47.5]),
 (0.50,[45.85,46.0,46.15,46.3,46.45,46.6,46.75,46.9,47.05,47.2,47.35,47.5,47.65]),
 (0.42,[45.9,46.05,46.2,46.35,46.5,46.65,46.8,46.95,47.1,47.25,47.4,47.55,47.7,47.85,48.0]),
 (0.35,[45.8,45.95,46.1,46.25,46.4,46.55,46.7,46.85,47.0,47.15,47.3,47.45,47.6,47.75,47.9,48.05]),
 (0.28,[45.75,45.9,46.05,46.2,46.35,46.5,46.65,46.8,46.95,47.1,47.25,47.4,47.55,47.7,47.85,48.0,48.15,48.3,48.45,48.6,48.75,48.9,49.05,49.2,49.35,49.5,49.65,49.8,49.95,50.1,50.25,50.4,50.55,50.7,50.85,51.0,51.15]),
 (0.22,[45.6,45.75,45.9,46.05,46.2,46.35,46.5,46.65,46.8,46.95,47.1,47.25,47.4,47.55,47.7,47.85,48.0,48.15,48.3,48.45,48.6,48.75,48.9,49.05,49.2,49.35,49.5,49.65,49.8,49.95,50.1,50.25,50.4,50.55,50.7,50.85,51.0,51.15,51.3]),
 (0.17,[45.65,45.8,45.95,46.1,46.25,46.4,46.55,46.7,46.85,47.0,47.15,47.3,47.45,47.6,47.75,47.9,48.05,48.2,48.35,48.5,48.65,48.8,48.95,49.1,49.25,49.4,49.55,49.7,49.85,50.0,50.15,50.3,50.45,50.6,50.75,50.9,51.05,51.2]),
 (0.12,[45.7,45.85,46.0,46.15,46.3,46.45,46.6,46.75,46.9,47.05,47.2,47.35,47.5,47.65,47.8,47.95,48.1,48.25,48.4,48.55,48.7,48.85,49.0,49.15,49.3,49.45,49.6,49.75,49.9,50.05,50.2,50.35,50.5,50.65,50.8,50.95,51.1]),
 (0.145,[45.78,45.93,46.08,46.23,46.38,46.53,46.68,46.83,46.98,47.13,47.28,47.43,47.58,47.73,47.88,48.03,48.18,48.33,48.48,48.63,48.78,48.93,49.08,49.23,49.38,49.53,49.68,49.83,49.98,50.13,50.28,50.43,50.58,50.73,50.88,51.03,51.18,51.35]),
 (0.195,[45.68,45.83,45.98,46.13,46.28,46.43,46.58,46.73,46.88,47.03,47.18,47.33,47.48,47.63,47.78,47.93,48.08,48.23,48.38,48.53,48.68,48.83,48.98,49.13,49.28,49.43,49.58,49.73,49.88,50.03,50.18,50.33,50.48,50.63,50.78,50.93,51.08,51.23]),
 (0.25,[45.72,45.88,46.02,46.18,46.32,46.48,46.62,46.78,46.92,47.08,47.22,47.38,47.52,47.68,47.82,47.98,48.12,48.28,48.42,48.58,48.72,48.88,49.02,49.18,49.32,49.48,49.62,49.78,49.92,50.08,50.22,50.38,50.52,50.68,50.82,50.98,51.12]),
 (0.31,[45.78,45.92,46.08,46.22,46.38,46.52,46.68,46.82,46.98,47.12,47.28,47.42,47.58,47.72,47.88,48.02,48.18,48.32,48.45]),
 (0.385,[45.82,45.98,46.12,46.28,46.42,46.58,46.72,46.88,47.02,47.18,47.32,47.48,47.62,47.78,47.92,48.12]),
 (0.46,[45.85,46.02,46.18,46.32,46.48,46.62,46.78,46.92,47.08,47.22,47.38,47.52,47.68,47.88]),
 (0.54,[45.82,45.98,46.12,46.28,46.42,46.58,46.72,46.88,47.02,47.18,47.32,47.48,47.62]),
 (0.62,[45.92,46.08,46.22,46.38,46.52,46.68,46.82,46.98,47.12,47.28,47.42,47.58]),
 (0.68,[45.82,46.0,46.18,46.4,46.6,46.75,46.9,47.05,47.2]),
 (0.72,[45.75,45.93,46.12,46.33,46.52,46.72,46.9,47.1]),
 (0.75,[45.85,46.02,46.2,46.4,46.6,46.8,47.0]),
 (0.78,[45.7,45.9,46.1,46.3,46.5,46.7,46.9]),
 (0.84,[45.55,45.7,45.97,46.17,46.35,46.55,46.7]),
 (0.87,[45.65,45.85,46.05,46.25,46.42,46.58]),
 (0.90,[45.55,45.75,45.95,46.15,46.35,46.48,46.62]),
 (0.96,[45.55,45.72,45.92,46.12,46.18,46.33,46.5]),
 (1.03,[45.3,45.52,45.62,45.82,45.92,46.08,46.18,46.33]),
 (1.10,[45.15,45.38,45.48,45.58,45.75,45.88,46.02,46.12,46.3]),
 (1.17,[45.2,45.42,45.52,45.7,45.9,46.02,46.15]),
 (1.24,[45.22,45.35,45.5,45.68,45.85,46.0]),
 (1.31,[45.1,45.25,45.47,45.63,45.73,45.9,46.05]),
 (1.38,[45.13,45.28,45.38,45.55,45.72,45.88]),
 (1.46,[45.12,45.27,45.42,45.52,45.68,45.85]),
 (1.53,[45.05,45.18,45.33,45.58,45.72]),
 (1.60,[44.95,45.1,45.35,45.5,45.75]),
]

groups = [apex, upper_right, right_flank, left_flank, centre_high, centre_low, lower_left_a, lower_left_b, lower_left_c, gap_points, right_scatter, right_extra, right_tail, left_tail]
pressure, power = [], []
for group in groups:
    for a, b in group:
        pressure.append(a * 0.001)
        power.append(b)
for level, row in solid_rows:
    for a in row:
        pressure.append(a * 0.001)
        power.append(level)

FONT = "DejaVu Sans"
GUTTER = 80
TOTAL_H = 1916

p = figure(width=3043, height=TOTAL_H, output_backend="svg", toolbar_location=None,
           x_range=(0.014278, 0.05447), y_range=(-0.459, 9.62),
           min_border_left=53, min_border_right=10, min_border_top=23, min_border_bottom=115)
p.grid.visible = False
p.outline_line_color = "#1a1a1a"
p.outline_line_width = 3
p.background_fill_color = "white"
p.border_fill_color = "white"
src = ColumnDataSource(dict(x=pressure, y=power))
p.scatter("x", "y", source=src, size=12.5, marker="circle", fill_color="black", line_color=None)

p.xaxis.ticker = FixedTicker(ticks=x_ticks)
p.xaxis.formatter = NumeralTickFormatter(format="0.000")
p.yaxis.ticker = FixedTicker(ticks=y_ticks)
p.xaxis.axis_label = "Total Pressure (Pa)"
p.xaxis.axis_label_text_font = FONT
p.xaxis.axis_label_text_font_size = "37px"
p.xaxis.axis_label_text_font_style = "normal"
p.xaxis.axis_label_text_color = "#1a1a1a"
p.xaxis.axis_label_standoff = 18
for ax in (p.xaxis, p.yaxis):
    ax.major_label_text_font = FONT
    ax.major_label_text_font_size = "37px"
    ax.major_label_text_color = "#1a1a1a"
    ax.major_tick_in = 0
    ax.major_tick_out = 13
    ax.major_tick_line_width = 3
    ax.major_tick_line_color = "#1a1a1a"
    ax.minor_tick_line_color = None
    ax.axis_line_width = 3
    ax.axis_line_color = "#1a1a1a"
    ax.major_label_standoff = 10
p.yaxis.major_label_orientation = "horizontal"

# a narrow strip to the left of the plot holds the y title, whose parts have different styles
strip = figure(width=GUTTER, height=TOTAL_H, output_backend="svg", toolbar_location=None,
               x_axis_type=None, y_axis_type=None, x_range=(0, GUTTER), y_range=(0, TOTAL_H),
               min_border_left=0, min_border_right=0, min_border_top=0, min_border_bottom=0)
strip.grid.visible = False
strip.outline_line_color = None
strip.add_layout(Label(x=37, y=571, angle=math.pi / 2,
                       text="Surface Acoustic Power ", text_font=FONT, text_font_size="37px",
                       text_color="#1a1a1a", text_align="left", text_baseline="middle"))
strip.add_layout(Label(x=37, y=1042, angle=math.pi / 2,
                       text="(W/m\u00b2)  x10\u207b\u00b9\u2074", text_font=FONT, text_font_size="37px",
                       text_font_style="italic", text_color="#1a1a1a", text_align="left", text_baseline="middle"))

layout = bokeh_row(strip, p, spacing=0)
open("out.html", "w").write(file_html(layout, INLINE))
